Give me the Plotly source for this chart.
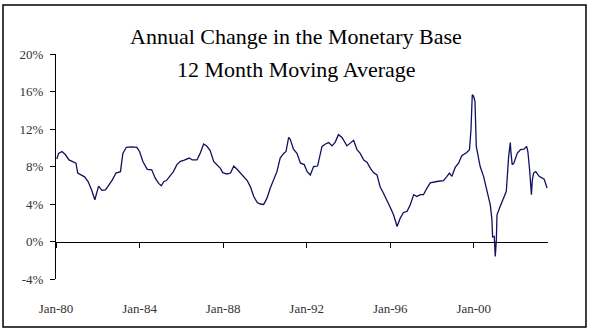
import plotly.graph_objects as go

# ---- data ----
dates = [
    "1980-01-15", "1980-02-15", "1980-04-15", "1980-06-15", "1980-08-15", "1980-10-15", "1980-12-15",
    "1981-01-15", "1981-04-01", "1981-05-15", "1981-07-15", "1981-09-15", "1981-11-10", "1981-12-15",
    "1982-01-15", "1982-03-15", "1982-05-15", "1982-07-15", "1982-09-15", "1982-11-15",
    "1983-02-01", "1983-03-15", "1983-05-15", "1983-08-15", "1983-11-15",
    "1984-01-01", "1984-03-01", "1984-05-15", "1984-08-01", "1984-10-01", "1984-12-01",
    "1985-01-15", "1985-03-01", "1985-04-15", "1985-06-15", "1985-08-15", "1985-10-15", "1985-12-15",
    "1986-02-10", "1986-04-10", "1986-05-20", "1986-07-10", "1986-10-01", "1986-11-25",
    "1987-01-25", "1987-03-25", "1987-05-20", "1987-07-20", "1987-09-15", "1987-11-15", "1987-12-25",
    "1988-03-10", "1988-05-10", "1988-07-05", "1988-09-01", "1988-10-30", "1988-12-28",
    "1989-02-25", "1989-04-25", "1989-06-20", "1989-08-20", "1989-10-15", "1989-12-10",
    "1990-02-05", "1990-04-05", "1990-06-05", "1990-07-30", "1990-09-25", "1990-11-25",
    "1991-01-05", "1991-02-20", "1991-03-20", "1991-05-15", "1991-07-15", "1991-09-15", "1991-11-20",
    "1992-01-10", "1992-03-05", "1992-05-01", "1992-07-10", "1992-09-25", "1992-11-25",
    "1993-01-20", "1993-03-20", "1993-05-15", "1993-07-10", "1993-09-10", "1993-12-05",
    "1994-02-01", "1994-04-01", "1994-05-30", "1994-07-25", "1994-09-25", "1994-11-20",
    "1995-01-20", "1995-03-15", "1995-05-15", "1995-07-10", "1995-09-05", "1995-11-05",
    "1996-01-01", "1996-02-28", "1996-04-30", "1996-06-25", "1996-08-20", "1996-10-20", "1996-12-15",
    "1997-02-15", "1997-04-10", "1997-06-10", "1997-08-05", "1997-10-05", "1997-12-01",
    "1998-03-25", "1998-07-20", "1998-09-20", "1998-11-01", "1998-12-15",
    "1999-02-10", "1999-04-10", "1999-06-05", "1999-09-01", "1999-10-18", "1999-11-13", "1999-12-06",
    "1999-12-28", "2000-01-22", "2000-02-14", "2000-04-22", "2000-06-20", "2000-08-18", "2000-10-16",
    "2000-11-14", "2000-11-25", "2000-12-24", "2001-01-11", "2001-01-30", "2001-02-10", "2001-04-08",
    "2001-06-06", "2001-07-23", "2001-09-02", "2001-10-01", "2001-10-12", "2001-11-03", "2001-12-02",
    "2002-01-30", "2002-03-29", "2002-05-27", "2002-07-13", "2002-08-04", "2002-09-03", "2002-10-05",
    "2002-10-20", "2002-11-11", "2002-12-20", "2003-02-17", "2003-05-16", "2003-06-15", "2003-07-05",
]
base_change = [
    8.8, 9.4, 9.6, 9.25, 8.7, 8.5, 8.35,
    7.3, 7.0, 6.9, 6.4, 5.5, 4.45, 5.3,
    5.9, 5.45, 5.5, 6.05, 6.6, 7.3,
    7.45, 9.4, 10.05, 10.1, 10.05,
    9.6, 8.5, 7.7, 7.65, 6.75, 6.2,
    5.95, 6.4, 6.5, 6.95, 7.45, 8.2, 8.55,
    8.65, 8.8, 8.9, 8.7, 8.7, 9.4,
    10.4, 10.15, 9.7, 8.55, 8.2, 7.8, 7.35,
    7.2, 7.3, 8.05, 7.7, 7.3, 7.0,
    6.5, 5.8, 4.8, 4.15, 4.0, 3.95,
    4.6, 5.7, 6.6, 7.45, 8.9, 9.4,
    9.6, 11.1, 10.9, 9.85, 9.4, 8.35, 8.2,
    7.45, 7.1, 8.0, 8.05, 10.15, 10.4,
    10.55, 10.2, 10.6, 11.4, 11.1, 10.2,
    10.5, 10.8, 9.8, 9.4, 8.7, 8.45,
    7.8, 7.35, 7.1, 5.8, 5.15, 4.45,
    3.65, 2.85, 1.6, 2.5, 3.1, 3.2, 3.9,
    5.0, 4.8, 5.0, 5.0, 5.7, 6.25,
    6.4, 6.5, 6.95, 7.3, 6.95,
    7.9, 8.35, 9.15, 9.5, 9.8, 11.9, 15.65,
    15.5, 14.95, 10.15, 8.0, 6.95, 5.5, 3.9,
    2.3, 0.5, 0.55, -1.6, 0.2, 2.85, 3.75,
    4.6, 5.35, 9.05, 10.55, 9.5, 8.2, 8.35,
    9.4, 9.8, 9.85, 10.15, 9.6, 7.65, 5.0,
    6.5, 7.3, 7.45, 6.95, 6.65, 6.2, 5.7,
]
x_tick_dates = ["1980-01-01", "1984-01-01", "1988-01-01", "1992-01-01", "1996-01-01", "2000-01-01"]
x_tick_labels = ["Jan-80", "Jan-84", "Jan-88", "Jan-92", "Jan-96", "Jan-00"]
y_tick_values = [-4, 0, 4, 8, 12, 16, 20]
y_tick_labels = ["-4%", "0%", "4%", "8%", "12%", "16%", "20%"]
title_lines = ["Annual Change in the Monetary Base", "12 Month Moving Average"]

x_range = ["1980-01-01", "2003-07-22"]
y_range = [-4, 20]

SERIF = "Liberation Serif, Times New Roman, serif"

fig = go.Figure()
fig.add_trace(go.Scatter(
    x=dates, y=base_change, mode="lines",
    line=dict(color="#10105e", width=1.3),
    showlegend=False, hoverinfo="skip",
))
# invisible copy so the bottom label axis is drawn
fig.add_trace(go.Scatter(
    x=dates, y=base_change, mode="lines", xaxis="x2",
    line=dict(color="rgba(0,0,0,0)", width=0),
    showlegend=False, hoverinfo="skip",
))

zero_pos = (0 - y_range[0]) / (y_range[1] - y_range[0])

fig.update_layout(
    width=589, height=332,
    margin=dict(l=56, r=41, t=54, b=53),
    paper_bgcolor="white", plot_bgcolor="white",
    font=dict(family=SERIF, size=13, color="#333333"),
    xaxis=dict(
        type="date", range=x_range, autorange=False,
        anchor="free", position=zero_pos,
        showline=True, linecolor="black", linewidth=1,
        ticks="outside", ticklen=5, tickwidth=1, tickcolor="black",
        tickvals=x_tick_dates, showticklabels=False,
        showgrid=False, zeroline=False,
    ),
    xaxis2=dict(
        type="date", range=x_range, autorange=False,
        overlaying="x", anchor="y", side="bottom",
        showline=False, showgrid=False, zeroline=False,
        ticks="outside", ticklen=17, tickcolor="rgba(0,0,0,0)",
        tickvals=x_tick_dates, ticktext=x_tick_labels,
        tickfont=dict(family=SERIF, size=13, color="#333333"),
    ),
    yaxis=dict(
        range=y_range, autorange=False,
        showline=True, linecolor="black", linewidth=1,
        ticks="outside", ticklen=5, tickwidth=1, tickcolor="black",
        tickvals=y_tick_values, ticktext=y_tick_labels,
        ticklabelstandoff=4,
        tickfont=dict(family=SERIF, size=13, color="#333333"),
        showgrid=False, zeroline=False,
    ),
)

fig.add_annotation(
    text=title_lines[0], xref="paper", yref="paper", x=0.488, y=1.079,
    xanchor="center", yanchor="middle", showarrow=False,
    font=dict(family=SERIF, size=22, color="black"),
)
fig.add_annotation(
    text=title_lines[1], xref="paper", yref="paper", x=0.488, y=0.932,
    xanchor="center", yanchor="middle", showarrow=False,
    font=dict(family=SERIF, size=22, color="black"),
)

# outer chart border
fig.add_shape(
    type="rect", xref="paper", yref="paper",
    x0=-0.1077, x1=1.0772, y0=-0.2133, y1=1.2178,
    line=dict(color="black", width=1.5), fillcolor="rgba(0,0,0,0)",
)

fig.write_html("out.html")
